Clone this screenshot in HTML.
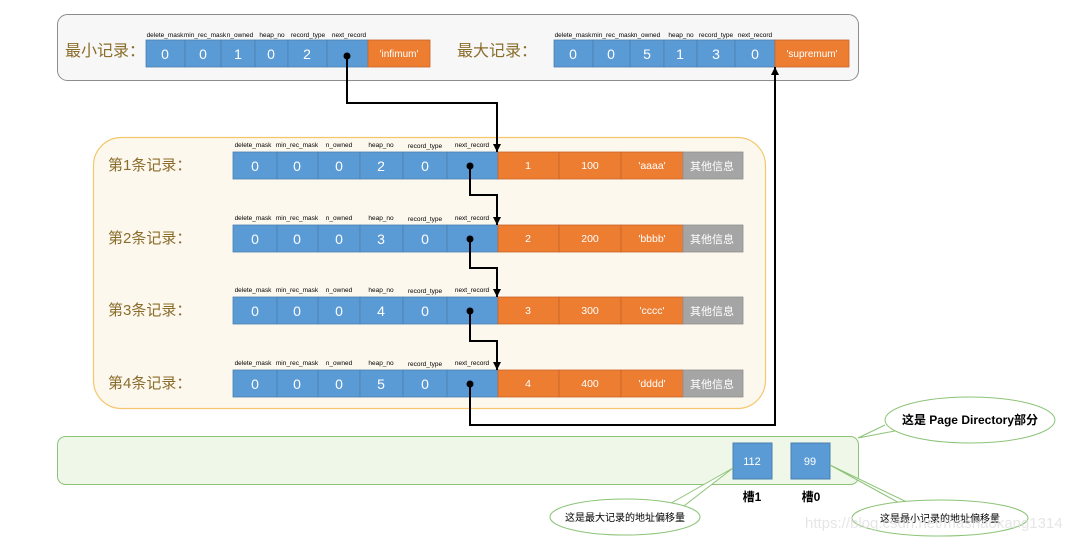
<!DOCTYPE html>
<html><head><meta charset="utf-8"><style>
html,body{margin:0;padding:0;background:#fff;width:1089px;height:539px;overflow:hidden}
svg text{font-family:"Liberation Sans","Noto Sans CJK SC",sans-serif}
</style></head><body>
<svg width="1089" height="539" viewBox="0 0 1089 539" xmlns="http://www.w3.org/2000/svg">
<defs>
<marker id="a2" viewBox="0 0 10 10" markerWidth="8" markerHeight="8" refX="10" refY="5" orient="auto" markerUnits="userSpaceOnUse"><path d="M0,0 L10,5 L0,10 z" fill="#000"/></marker></defs>

<rect x="57.5" y="14.5" width="801" height="66" rx="10" fill="#f7f7f7" stroke="#8c8c8c"/>
<text x="65" y="56" font-size="16" fill="#8a6d2b">最小记录：</text>
<text x="457" y="56" font-size="16" fill="#8a6d2b">最大记录：</text>
<g font-size="6.5" fill="#000" text-anchor="middle">
<text x="165" y="37">delete_mask</text><text x="205" y="37">min_rec_mask</text><text x="240" y="37">n_owned</text><text x="272" y="37">heap_no</text><text x="308" y="37">record_type</text><text x="349" y="37">next_record</text>
<text x="573" y="37">delete_mask</text><text x="613" y="37">min_rec_mask</text><text x="647" y="37">n_owned</text><text x="681" y="37">heap_no</text><text x="716" y="37">record_type</text><text x="755" y="37">next_record</text>
</g>
<g stroke="#4a7fb0" stroke-width="0.8" fill="#5b9bd5">
<rect x="146" y="40" width="39" height="27"/><rect x="185" y="40" width="36" height="27"/><rect x="221" y="40" width="34" height="27"/><rect x="255" y="40" width="33" height="27"/><rect x="288" y="40" width="39" height="27"/><rect x="327" y="40" width="41" height="27"/>
<rect x="554" y="40" width="39" height="27"/><rect x="593" y="40" width="37" height="27"/><rect x="630" y="40" width="34" height="27"/><rect x="664" y="40" width="33" height="27"/><rect x="697" y="40" width="38" height="27"/><rect x="735" y="40" width="40" height="27"/>
</g>
<rect x="368" y="40" width="62" height="27" fill="#ed7d31" stroke="#c9652a" stroke-width="0.8"/>
<rect x="775" y="40" width="74" height="27" fill="#ed7d31" stroke="#c9652a" stroke-width="0.8"/>
<g font-size="14" fill="#fff" text-anchor="middle">
<text x="165" y="59">0</text><text x="203" y="59">0</text><text x="238" y="59">1</text><text x="271" y="59">0</text><text x="307" y="59">2</text>
<text x="573" y="59">0</text><text x="611" y="59">0</text><text x="647" y="59">5</text><text x="680" y="59">1</text><text x="716" y="59">3</text><text x="755" y="59">0</text>
<text x="399" y="57" font-size="10">'infimum'</text><text x="812" y="57" font-size="10">'supremum'</text>
</g>

<rect x="93.5" y="137.5" width="672" height="271" rx="28" fill="#fdf8ee" stroke="#f4c76e" stroke-width="1.2"/>

<g font-size="6.5" fill="#000" text-anchor="middle">
<g id="r1">
<text x="253" y="147">delete_mask</text><text x="297" y="147">min_rec_mask</text><text x="339" y="147">n_owned</text><text x="381" y="147">heap_no</text><text x="425" y="148">record_type</text><text x="472" y="147">next_record</text>
</g>
<use href="#r1" y="73"/><use href="#r1" y="145"/><use href="#r1" y="218"/>
</g>
<g id="row">
<g stroke="#4a7fb0" stroke-width="0.8" fill="#5b9bd5">
<rect x="233" y="152" width="44" height="27"/><rect x="277" y="152" width="41" height="27"/><rect x="318" y="152" width="42" height="27"/><rect x="360" y="152" width="43" height="27"/><rect x="403" y="152" width="44" height="27"/><rect x="447" y="152" width="51" height="27"/>
</g>
<g stroke="#c9652a" stroke-width="0.8" fill="#ed7d31">
<rect x="498" y="152" width="61" height="27"/><rect x="559" y="152" width="62" height="27"/><rect x="621" y="152" width="62" height="27"/>
</g>
<rect x="683" y="152" width="60" height="27" fill="#a5a5a5" stroke="#8f8f8f" stroke-width="0.8"/>
<circle cx="470" cy="166" r="3.5" fill="#000"/>
<text x="712" y="170" font-size="11" fill="#fff" text-anchor="middle">其他信息</text>
</g>
<use href="#row" y="73"/><use href="#row" y="145"/><use href="#row" y="218"/>

<g font-size="15" fill="#8a6d2b">
<text x="108" y="170">第1条记录：</text><text x="108" y="243">第2条记录：</text><text x="108" y="315">第3条记录：</text><text x="108" y="388">第4条记录：</text>
</g>
<g font-size="14" fill="#fff" text-anchor="middle">
<text x="255" y="171">0</text><text x="297" y="171">0</text><text x="339" y="171">0</text><text x="381" y="171">2</text><text x="425" y="171">0</text>
<text x="255" y="244">0</text><text x="297" y="244">0</text><text x="339" y="244">0</text><text x="381" y="244">3</text><text x="425" y="244">0</text>
<text x="255" y="316">0</text><text x="297" y="316">0</text><text x="339" y="316">0</text><text x="381" y="316">4</text><text x="425" y="316">0</text>
<text x="255" y="389">0</text><text x="297" y="389">0</text><text x="339" y="389">0</text><text x="381" y="389">5</text><text x="425" y="389">0</text>
</g>
<g font-size="10.5" fill="#fff" text-anchor="middle">
<text x="528" y="169">1</text><text x="590" y="169">100</text><text x="652" y="169">'aaaa'</text>
<text x="528" y="242">2</text><text x="590" y="242">200</text><text x="652" y="242">'bbbb'</text>
<text x="528" y="314">3</text><text x="590" y="314">300</text><text x="652" y="314">'cccc'</text>
<text x="528" y="387">4</text><text x="590" y="387">400</text><text x="652" y="387">'dddd'</text>
</g>

<circle cx="347" cy="56" r="3.5" fill="#000"/>
<g fill="none" stroke="#000" stroke-width="2">
<polyline points="347,56 347,103 497,103 497,152" marker-end="url(#a2)"/>
<polyline points="470,166 470,195 497,195 497,225" marker-end="url(#a2)"/>
<polyline points="470,239 470,268 497,268 497,297" marker-end="url(#a2)"/>
<polyline points="470,311 470,341 497,341 497,370" marker-end="url(#a2)"/>
<polyline points="470,384 470,425 775,425 775,67" marker-end="url(#a2)"/>
</g>

<rect x="57.5" y="436.5" width="801" height="48" rx="8" fill="#eef7e8" stroke="#8cc377"/>
<rect x="733" y="443" width="39" height="36" fill="#5b9bd5" stroke="#4a7fb0"/>
<rect x="791" y="443" width="39" height="36" fill="#5b9bd5" stroke="#4a7fb0"/>
<text x="752" y="465" font-size="11" fill="#fff" text-anchor="middle">112</text>
<text x="810" y="465" font-size="11" fill="#fff" text-anchor="middle">99</text>
<text x="752" y="501" font-size="12" font-weight="bold" fill="#000" text-anchor="middle">槽1</text>
<text x="811" y="501" font-size="12" font-weight="bold" fill="#000" text-anchor="middle">槽0</text>

<g fill="#fff" stroke="#8cc377" stroke-width="1">
<path d="M666,506 L733,468 L680,509"/>
<ellipse cx="625" cy="517" rx="75" ry="18"/>
<path d="M903,505 L830,465 L915,506"/>
<ellipse cx="940" cy="518" rx="88" ry="18"/>
<path d="M885,425 L858,438 L900,430"/>
<ellipse cx="970" cy="420" rx="85" ry="23"/>
</g>
<text x="625" y="521" font-size="10" fill="#000" text-anchor="middle">这是最大记录的地址偏移量</text>
<text x="940" y="522" font-size="10" fill="#000" text-anchor="middle">这是最小记录的地址偏移量</text>
<text x="970" y="424" font-size="12" font-weight="bold" fill="#000" text-anchor="middle">这是 Page Directory部分</text>
<text x="805" y="528" font-size="15" fill="#e0e0e0" opacity="0.8">https://blog.csdn.net/mashaokang1314</text>
</svg>
</body></html>
